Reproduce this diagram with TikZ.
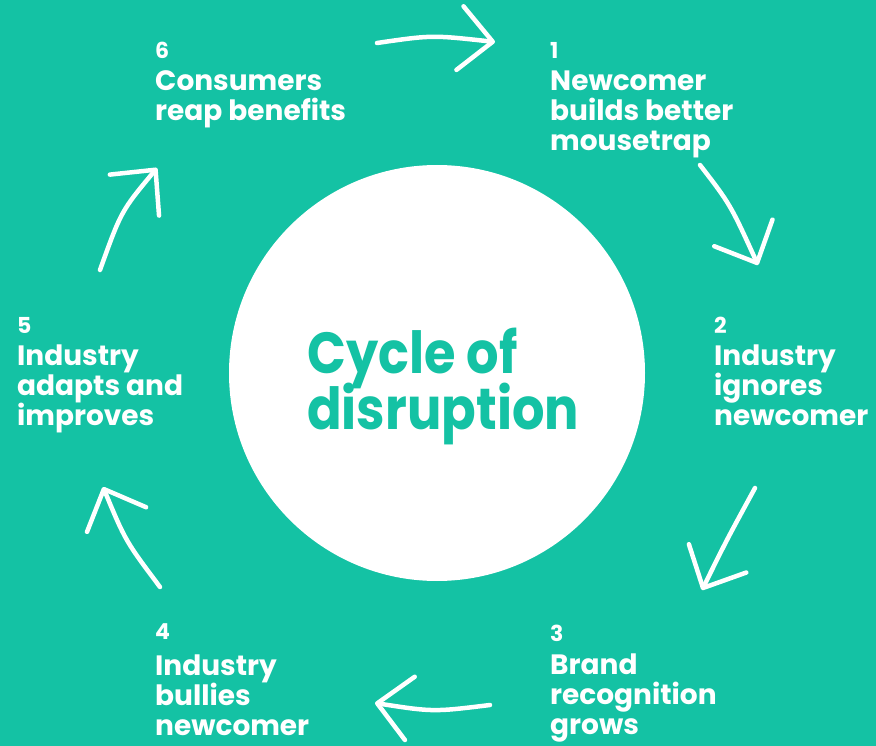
\documentclass[tikz,border=0pt]{standalone}
\usepackage{fontspec}
\setmainfont{Poppins}
\newfontfamily\titlefont{Poppins}[FakeStretch=0.88]
\usetikzlibrary{arrows.meta}
\definecolor{cyclegreen}{RGB}{20,194,164}
\newcommand\titlestyle{\titlefont\bfseries\fontsize{58}{56}\selectfont\lineskiplimit=-50pt\relax}

\begin{document}
\begin{tikzpicture}[x=1pt, y=-1pt,
  stagetext/.style={anchor=north west, inner sep=0pt, align=left, text=white,
    font=\bfseries\fontsize{28}{30}\selectfont},
  flow/.style={draw=white, line width=4.5pt, line cap=round,
    -{Straight Barb[length=33pt, width=64pt, round]}}
]
  % canvas
  \fill[cyclegreen] (0,0) rectangle (876,746);
  \useasboundingbox (0,0) rectangle (876,746);

  % central disc and title
  \node[circle, fill=white, minimum size=416pt, inner sep=0pt] (hub) at (437,373) {};
  \node[anchor=north west, inner sep=0pt, align=left, text=cyclegreen,
        font=\titlestyle] (title) at (307,328) {Cycle of\\disruption};

  % the six stages: a small step number above each caption
  \newcommand\stagenum[2][2pt]{{\fontsize{22}{30}\selectfont #2}\\[#1]}
  \node[stagetext] (s1) at (550,42)  {\stagenum{1}Newcomer\\builds better\\mousetrap};
  \node[stagetext] (s2) at (714,317) {\stagenum{2}Industry\\ignores\\newcomer};
  \node[stagetext] (s3) at (550,625) {\stagenum[3pt]{3}Brand\\recognition\\grows};
  \node[stagetext] (s4) at (155,623) {\stagenum[6pt]{4}Industry\\bullies\\newcomer};
  \node[stagetext] (s5) at (17,317)  {\stagenum{5}Industry\\adapts and\\improves};
  \node[stagetext] (s6) at (155,42)  {\stagenum{6}Consumers\\reap benefits};

  % arrow ends
  \coordinate (f1a) at (377,43);  \coordinate (f1b) at (495,42);
  \coordinate (f2a) at (700,165); \coordinate (f2b) at (758,265);
  \coordinate (f3a) at (755,488); \coordinate (f3b) at (702,590);
  \coordinate (f4a) at (490,705); \coordinate (f4b) at (375,703);
  \coordinate (f5a) at (160,587); \coordinate (f5b) at (103,487);
  \coordinate (f6a) at (100,270); \coordinate (f6b) at (157,168);

  % hand-drawn style arrows around the cycle
  \draw[flow] (f1a) .. controls (432,35)  .. (f1b);
  \draw[flow] (f2a) .. controls (730.3,204.3) .. (f2b);
  \draw[flow] (f3a) .. controls (726.5,540.3) .. (f3b);
  \draw[flow] (f4a) .. controls (433.2,712) .. (f4b);
  \draw[flow] (f5a) .. controls (125.5,541) .. (f5b);
  \draw[flow] (f6a) .. controls (121.2,211) .. (f6b);
\end{tikzpicture}
\end{document}
